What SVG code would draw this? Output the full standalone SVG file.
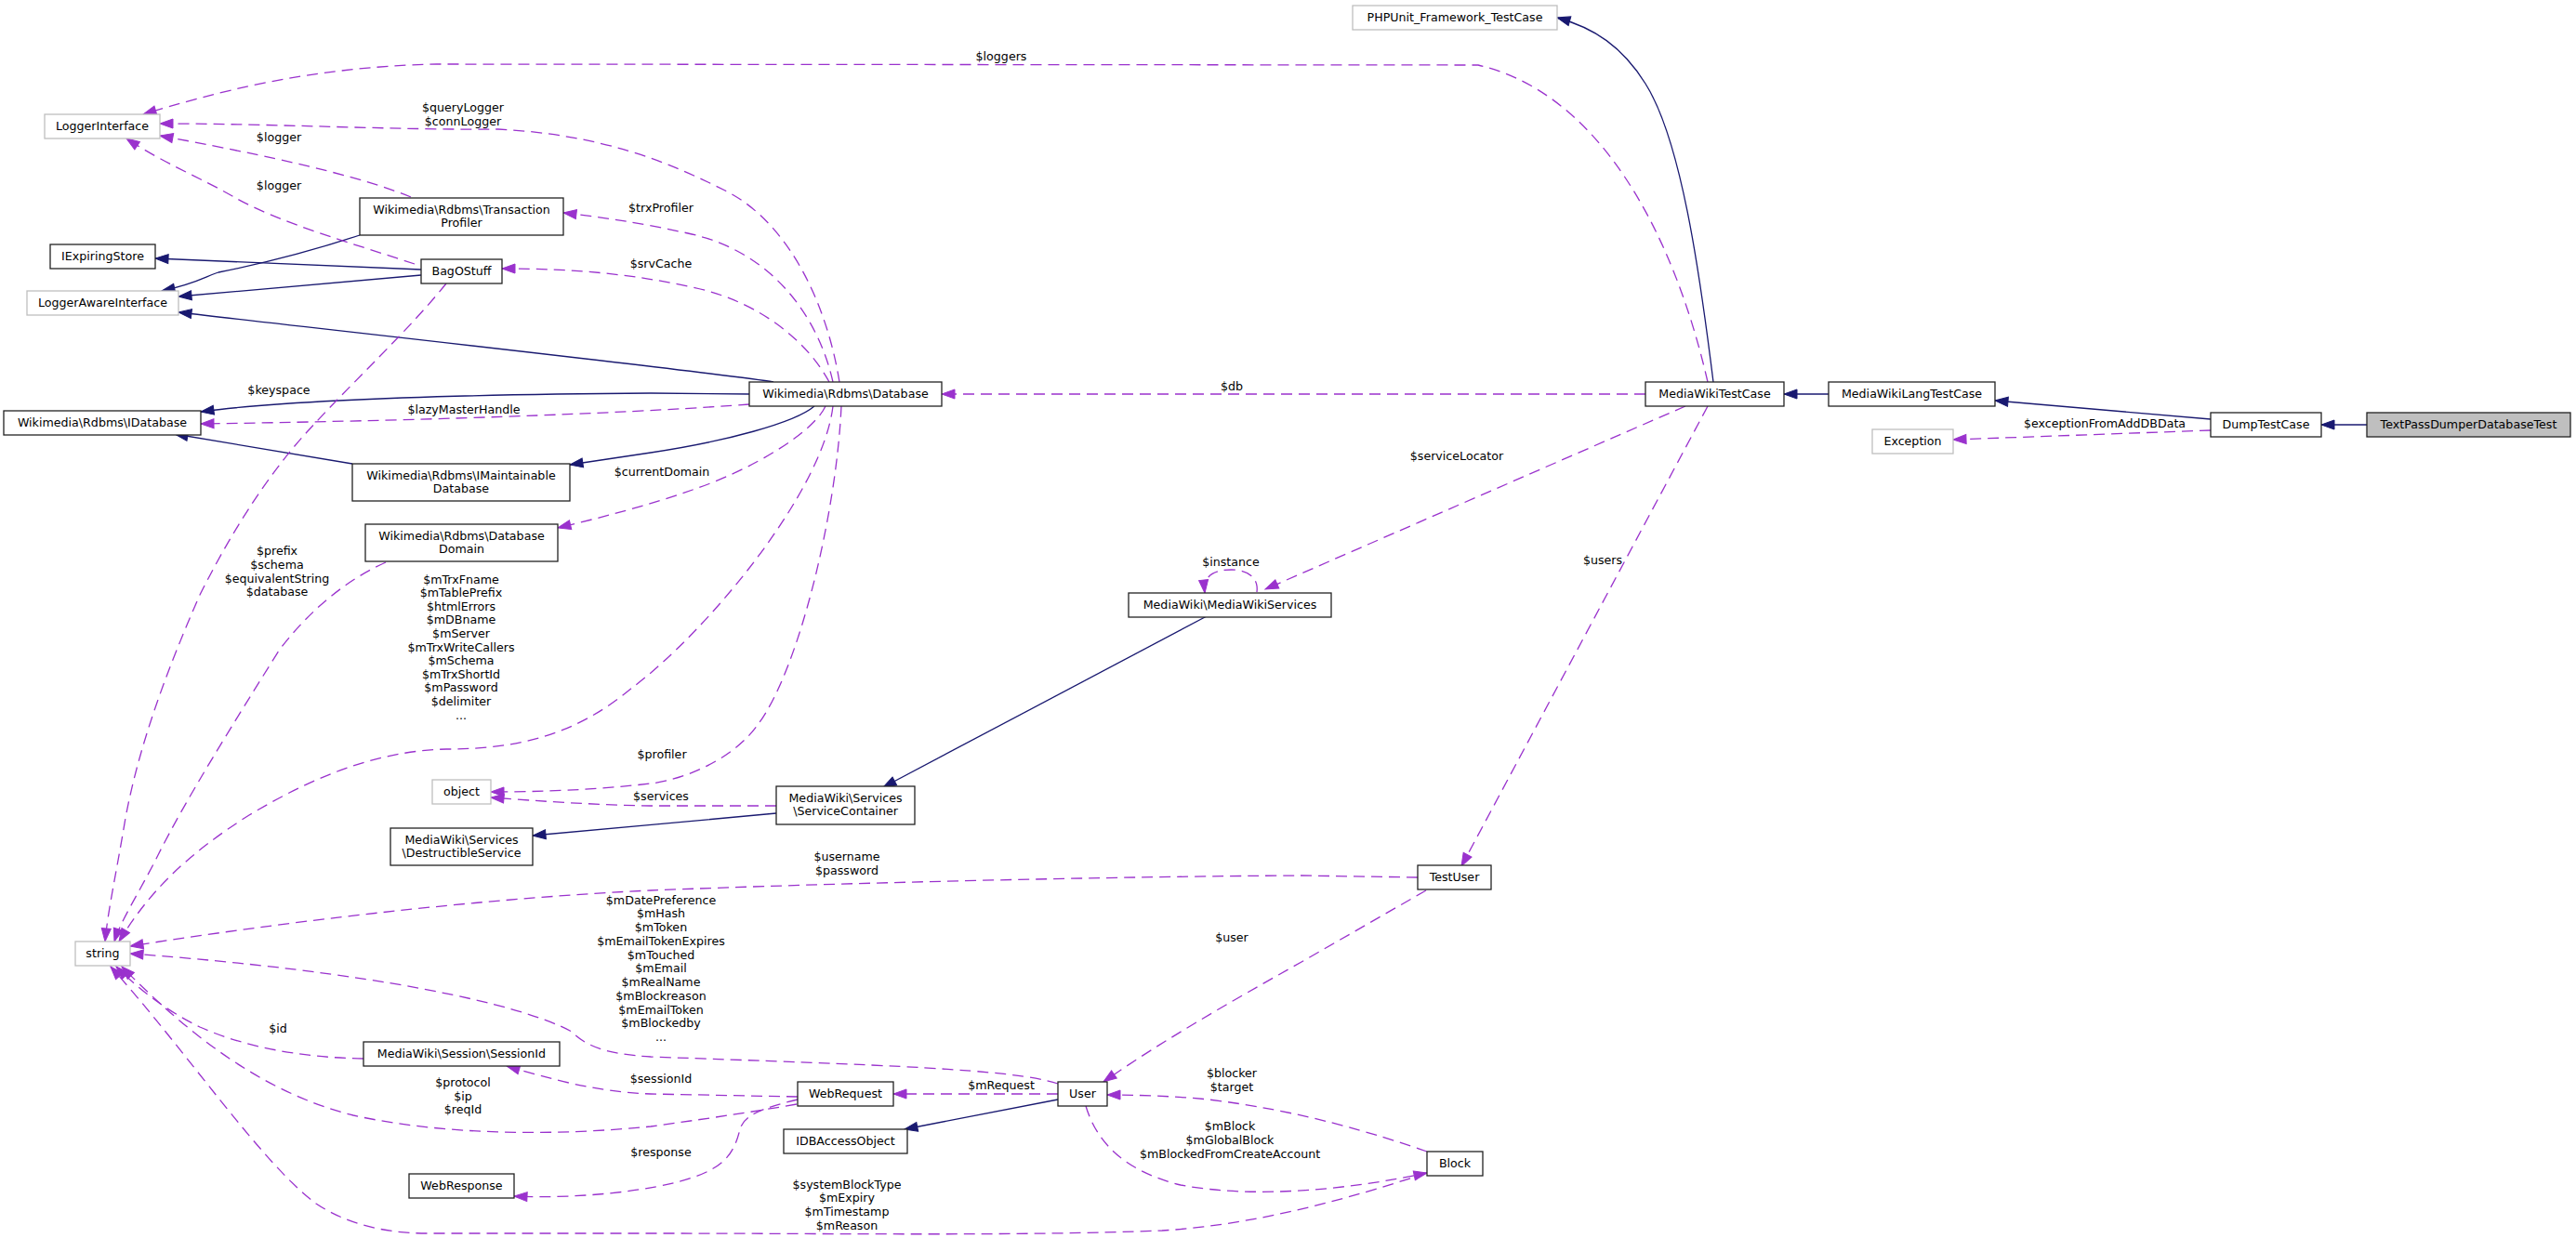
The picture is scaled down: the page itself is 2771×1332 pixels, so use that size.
<svg xmlns="http://www.w3.org/2000/svg" width="2771" height="1332" viewBox="0 0 2771 1332">
<style>
text{font-family:"DejaVu Sans","Liberation Sans",sans-serif;font-size:12.65px;fill:#000;text-anchor:middle}
.n rect{fill:#fff;stroke:#222;stroke-width:1.3}
.g rect{fill:#fff;stroke:#bfbfbf;stroke-width:1.3}
.t rect{fill:#bfbfbf;stroke:#222;stroke-width:1.3}
.inh{fill:none;stroke:#191970;stroke-width:1.3;marker-end:url(#ab)}
.use{fill:none;stroke:#9a32cd;stroke-width:1.3;stroke-dasharray:12,7;marker-end:url(#ap)}
</style>
<defs>
<marker id="ab" markerUnits="userSpaceOnUse" markerWidth="16" markerHeight="12" refX="14" refY="5" orient="auto" overflow="visible"><path d="M0,0 L14,5 L0,10 z" fill="#191970" stroke="#191970" stroke-width="1"/></marker>
<marker id="ap" markerUnits="userSpaceOnUse" markerWidth="16" markerHeight="12" refX="14" refY="5" orient="auto" overflow="visible"><path d="M0,0 L14,5 L0,10 z" fill="#9a32cd" stroke="#9a32cd" stroke-width="1"/></marker>
</defs>
<rect width="2771" height="1332" fill="#fff"/>
<g id="connectors">
<path class="inh" d="M387,253 C320,275 260,288 235,293 C222,297 212,305 174,313"/>
<path class="inh" d="M453,290 L167,278"/>
<path class="inh" d="M453,296 L192,319"/>
<path class="inh" d="M832,411 C780,402 400,360 192,336"/>
<path class="inh" d="M806,424 L700,423 C550,424 330,428 216,443"/>
<path class="inh" d="M379,499 L188,467"/>
<path class="inh" d="M876,437 C855,455 780,475 700,487 L613,500"/>
<path class="inh" d="M1843,411 C1828,290 1808,150 1770,90 C1745,50 1715,30 1675,19"/>
<path class="inh" d="M1967,424 L1919,424"/>
<path class="inh" d="M2378,451 L2146,431"/>
<path class="inh" d="M2546,457 L2497,457"/>
<path class="inh" d="M1298,663 L950,847"/>
<path class="inh" d="M835,875 C760,882 650,892 573,899"/>
<path class="inh" d="M1138,1183 L973,1215"/>
<path class="use" d="M1837,411 C1800,250 1720,100 1590,70 L470,69 C330,72 230,100 154,123"/>
<path class="use" d="M903,411 C890,330 850,240 780,205 C720,175 650,145 536,139 C420,140 300,133 172,133"/>
<path class="use" d="M442,212 C400,195 330,175 172,146"/>
<path class="use" d="M446,284 C380,262 300,240 250,211 C215,191 175,175 136,149"/>
<path class="use" d="M896,411 C880,340 830,270 740,251 C690,240 650,234 606,229"/>
<path class="use" d="M892,411 C870,370 820,325 745,309 C680,295 620,289 540,289"/>
<path class="use" d="M806,435 C700,443 500,452 216,456"/>
<path class="use" d="M888,437 C875,465 810,505 745,527 C700,543 650,556 600,568"/>
<path class="use" d="M896,437 C885,530 760,680 680,740 C620,790 560,806 480,806 C400,808 330,840 268,877 C200,920 160,960 128,1013"/>
<path class="use" d="M905,437 C900,550 860,720 815,780 C790,815 740,838 700,843 C640,850 580,852 528,852"/>
<path class="use" d="M835,867 L700,867 C640,866 580,862 528,858"/>
<path class="use" d="M415,605 C370,625 330,660 300,700 C250,780 200,860 170,920 C150,960 130,990 123,1013"/>
<path class="use" d="M480,305 C440,355 380,410 330,465 C280,520 240,590 215,640 C180,720 150,800 135,880 C125,940 116,980 113,1013"/>
<path class="use" d="M1525,944 L1400,942 C1200,943 900,950 700,958 C550,965 350,985 140,1018"/>
<path class="use" d="M1138,1166 C1090,1150 950,1146 700,1137 C650,1134 630,1125 615,1110 C560,1080 400,1045 140,1026"/>
<path class="use" d="M1138,1177 L961,1177"/>
<path class="use" d="M858,1180 L700,1177 C640,1175 590,1160 545,1147"/>
<path class="use" d="M391,1139 C320,1138 260,1125 215,1105 C180,1088 150,1065 125,1040"/>
<path class="use" d="M857,1188 C800,1198 750,1205 700,1212 C600,1222 480,1222 380,1200 C280,1175 200,1110 131,1040"/>
<path class="use" d="M858,1183 C820,1192 800,1200 796,1215 C790,1240 780,1255 745,1267 C700,1282 620,1290 553,1287"/>
<path class="use" d="M1534,958 L1400,1035 C1320,1080 1250,1120 1187,1164"/>
<path class="use" d="M1535,1239 C1480,1220 1400,1195 1300,1183 C1260,1179 1220,1178 1191,1178"/>
<path class="use" d="M1168,1190 C1180,1230 1210,1260 1270,1275 C1350,1290 1450,1280 1535,1262"/>
<path class="use" d="M1535,1262 C1450,1290 1350,1318 1250,1324 C1100,1330 900,1327 700,1327 L460,1327 C410,1327 370,1315 340,1295 C280,1250 200,1130 119,1040"/>
<path class="use" d="M1770,424 L1013,424"/>
<path class="use" d="M1813,437 L1361,634"/>
<path class="use" d="M1352,637 C1354,622 1343,613 1325,613 C1307,613 1294,618 1296,638"/>
<path class="use" d="M1837,437 L1572,932"/>
<path class="use" d="M2378,463 L2101,473"/>
</g>
<g id="edge-labels">
<text x="1077" y="65">$loggers</text>
<text x="498" y="120">$queryLogger</text>
<text x="498" y="135">$connLogger</text>
<text x="300" y="152">$logger</text>
<text x="300" y="204">$logger</text>
<text x="711" y="228">$trxProfiler</text>
<text x="711" y="288">$srvCache</text>
<text x="300" y="424">$keyspace</text>
<text x="499" y="445">$lazyMasterHandle</text>
<text x="712" y="512">$currentDomain</text>
<text x="1325" y="420">$db</text>
<text x="1567" y="495">$serviceLocator</text>
<text x="2264" y="460">$exceptionFromAddDBData</text>
<text x="1324" y="609">$instance</text>
<text x="1724" y="607">$users</text>
<text x="298" y="597">$prefix</text>
<text x="298" y="612">$schema</text>
<text x="298" y="627">$equivalentString</text>
<text x="298" y="641">$database</text>
<text x="496" y="627.5">$mTrxFname</text>
<text x="496" y="642">$mTablePrefix</text>
<text x="496" y="656.7">$htmlErrors</text>
<text x="496" y="671.3">$mDBname</text>
<text x="496" y="686">$mServer</text>
<text x="496" y="700.5">$mTrxWriteCallers</text>
<text x="496" y="715">$mSchema</text>
<text x="496" y="729.7">$mTrxShortId</text>
<text x="496" y="744.3">$mPassword</text>
<text x="496" y="759">$delimiter</text>
<text x="496" y="773.5">...</text>
<text x="712" y="816">$profiler</text>
<text x="711" y="861">$services</text>
<text x="911" y="926">$username</text>
<text x="911" y="941">$password</text>
<text x="711" y="972.5">$mDatePreference</text>
<text x="711" y="987.3">$mHash</text>
<text x="711" y="1002">$mToken</text>
<text x="711" y="1016.8">$mEmailTokenExpires</text>
<text x="711" y="1031.5">$mTouched</text>
<text x="711" y="1046.3">$mEmail</text>
<text x="711" y="1061">$mRealName</text>
<text x="711" y="1075.8">$mBlockreason</text>
<text x="711" y="1090.5">$mEmailToken</text>
<text x="711" y="1105.3">$mBlockedby</text>
<text x="711" y="1120">...</text>
<text x="1325" y="1013">$user</text>
<text x="1325" y="1159">$blocker</text>
<text x="1325" y="1174">$target</text>
<text x="1077" y="1172">$mRequest</text>
<text x="711" y="1165">$sessionId</text>
<text x="299" y="1111">$id</text>
<text x="498" y="1169">$protocol</text>
<text x="498" y="1184">$ip</text>
<text x="498" y="1198">$reqId</text>
<text x="711" y="1244">$response</text>
<text x="1323" y="1216">$mBlock</text>
<text x="1323" y="1231">$mGlobalBlock</text>
<text x="1323" y="1246">$mBlockedFromCreateAccount</text>
<text x="911" y="1279">$systemBlockType</text>
<text x="911" y="1293">$mExpiry</text>
<text x="911" y="1308">$mTimestamp</text>
<text x="911" y="1323">$mReason</text>
</g>
<g id="node-phpunit" class="g"><rect x="1455" y="6" width="220" height="26"/><text x="1565" y="23">PHPUnit_Framework_TestCase</text></g>
<g id="node-loggerinterface" class="g"><rect x="48" y="123" width="124" height="26"/><text x="110" y="140">LoggerInterface</text></g>
<g id="node-transactionprofiler" class="n"><rect x="387" y="213" width="219" height="40"/><text x="496.5" y="230">Wikimedia\Rdbms\Transaction</text><text x="496.5" y="244">Profiler</text></g>
<g id="node-iexpiringstore" class="n"><rect x="54" y="263" width="113" height="26"/><text x="110.5" y="280">IExpiringStore</text></g>
<g id="node-bagostuff" class="n"><rect x="453" y="279" width="87" height="26"/><text x="496.5" y="296">BagOStuff</text></g>
<g id="node-loggerawareinterface" class="g"><rect x="29" y="313" width="163" height="26"/><text x="110.5" y="330">LoggerAwareInterface</text></g>
<g id="node-idatabase" class="n"><rect x="4" y="442" width="212" height="26"/><text x="110" y="459">Wikimedia\Rdbms\IDatabase</text></g>
<g id="node-database" class="n"><rect x="806" y="411" width="207" height="26"/><text x="909.5" y="428">Wikimedia\Rdbms\Database</text></g>
<g id="node-imaintainabledatabase" class="n"><rect x="379" y="499" width="234" height="40"/><text x="496" y="516">Wikimedia\Rdbms\IMaintainable</text><text x="496" y="530">Database</text></g>
<g id="node-databasedomain" class="n"><rect x="393" y="564" width="207" height="40"/><text x="496.5" y="581">Wikimedia\Rdbms\Database</text><text x="496.5" y="595">Domain</text></g>
<g id="node-object" class="g"><rect x="465" y="839" width="63" height="26"/><text x="496.5" y="856">object</text></g>
<g id="node-destructibleservice" class="n"><rect x="420" y="891" width="153" height="40"/><text x="496.5" y="908">MediaWiki\Services</text><text x="496.5" y="922">\DestructibleService</text></g>
<g id="node-string" class="g"><rect x="81" y="1013" width="59" height="26"/><text x="110.5" y="1030">string</text></g>
<g id="node-sessionid" class="n"><rect x="391" y="1121" width="211" height="26"/><text x="496.5" y="1138">MediaWiki\Session\SessionId</text></g>
<g id="node-webresponse" class="n"><rect x="440" y="1263" width="113" height="26"/><text x="496.5" y="1280">WebResponse</text></g>
<g id="node-servicecontainer" class="n"><rect x="835" y="846" width="149" height="41"/><text x="909.5" y="863">MediaWiki\Services</text><text x="909.5" y="877">\ServiceContainer</text></g>
<g id="node-webrequest" class="n"><rect x="858" y="1164" width="103" height="26"/><text x="909.5" y="1181">WebRequest</text></g>
<g id="node-idbaccessobject" class="n"><rect x="843" y="1215" width="133" height="26"/><text x="909.5" y="1232">IDBAccessObject</text></g>
<g id="node-mediawikiservices" class="n"><rect x="1214" y="638" width="218" height="26"/><text x="1323" y="655">MediaWiki\MediaWikiServices</text></g>
<g id="node-testuser" class="n"><rect x="1525" y="931" width="79" height="26"/><text x="1564.5" y="948">TestUser</text></g>
<g id="node-user" class="n"><rect x="1138" y="1164" width="53" height="26"/><text x="1164.5" y="1181">User</text></g>
<g id="node-block" class="n"><rect x="1535" y="1239" width="60" height="26"/><text x="1565" y="1256">Block</text></g>
<g id="node-mediawikitestcase" class="n"><rect x="1770" y="411" width="149" height="26"/><text x="1844.5" y="428">MediaWikiTestCase</text></g>
<g id="node-mediawikilangtestcase" class="n"><rect x="1967" y="411" width="179" height="26"/><text x="2056.5" y="428">MediaWikiLangTestCase</text></g>
<g id="node-exception" class="g"><rect x="2014" y="462" width="87" height="26"/><text x="2057.5" y="479">Exception</text></g>
<g id="node-dumptestcase" class="n"><rect x="2378" y="444" width="119" height="26"/><text x="2437.5" y="461">DumpTestCase</text></g>
<g id="node-textpassdumperdatabasetest" class="t"><rect x="2546" y="444" width="219" height="26"/><text x="2655.5" y="461">TextPassDumperDatabaseTest</text></g>
</svg>
